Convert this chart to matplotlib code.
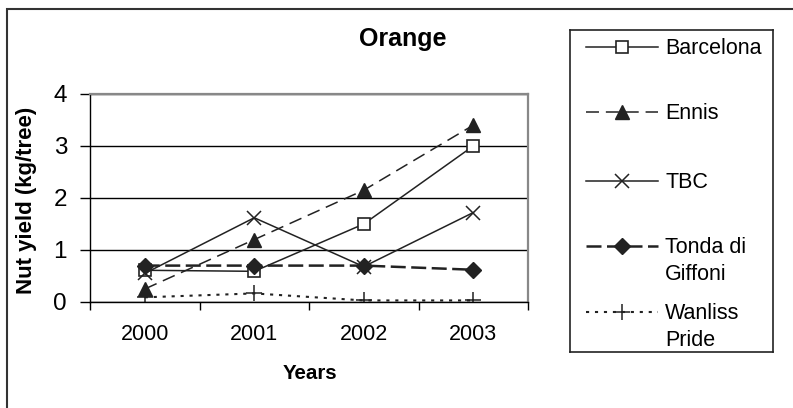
import matplotlib.pyplot as plt
from matplotlib.patches import Rectangle

plt.rcParams['font.family'] = ['Liberation Sans', 'DejaVu Sans']

years = ['2000', '2001', '2002', '2003']
barcelona = [0.61, 0.59, 1.5, 3.0]
ennis = [0.25, 1.2, 2.15, 3.4]
tbc = [0.55, 1.62, 0.68, 1.72]
tonda = [0.7, 0.7, 0.7, 0.62]
wanliss = [0.09, 0.165, 0.03, 0.03]
names = ['Barcelona', 'Ennis', 'TBC', 'Tonda di\nGiffoni', 'Wanliss\nPride']

c = '#222222'
styles = [
    dict(ls='-', lw=1.1, marker='s', ms=8.6, mfc='white', mec=c, mew=1.2),
    dict(ls=(0, (8.5, 4.5)), lw=1.1, marker='^', ms=10, mfc=c, mec=c),
    dict(ls='-', lw=1.1, marker='x', ms=10, mec=c, mew=1.1),
    dict(ls=(0, (6, 2.2)), lw=1.8, marker='D', ms=8.5, mfc=c, mec=c),
    dict(ls=(0, (1.5, 2.8)), lw=1.5, marker='+', ms=11, mec=c, mew=1.1),
]
series = [barcelona, ennis, tbc, tonda, wanliss]

fig = plt.figure(figsize=(7.93, 4.08), dpi=100)
ax = fig.add_axes([90 / 793, 1 - 302 / 408, 438 / 793, 208 / 408])
x = range(len(years))

for vals, st in zip(series, styles):
    ax.plot(x, vals, color=c, **st)

ax.set_xlim(-0.5, 3.5)
ax.set_ylim(0, 4)
ax.set_yticks([0, 1, 2, 3, 4])
ax.set_xticks([-0.5, 0.5, 1.5, 2.5, 3.5])
ax.set_xticklabels([])
ax.set_xticks(list(x), minor=True)
ax.set_xticklabels(years, minor=True, fontsize=15.5)
ax.tick_params(axis='x', which='minor', length=0, pad=16)
ax.tick_params(axis='x', which='major', length=6, width=1, direction='out', color='black')
ax.tick_params(axis='y', labelsize=17.5, length=7.5, width=1, pad=9)
ax.grid(axis='y', color='black', lw=1.0)
ax.set_axisbelow(True)
for s in ['top', 'right']:
    ax.spines[s].set_color('#888888')
    ax.spines[s].set_linewidth(1.6)
for s in ['left', 'bottom']:
    ax.spines[s].set_color('black')
    ax.spines[s].set_linewidth(1.0)

ax.set_xlabel('Years', fontsize=14.8, fontweight='bold')
ax.xaxis.set_label_coords(0.502, -0.345)
ax.xaxis.label.set_va('center')
ax.set_ylabel('Nut yield (kg/tree)', fontsize=16, fontweight='bold')
ax.yaxis.set_label_coords(-0.146, 0.49)
ax.yaxis.label.set_va('center')
fig.text(403 / 793, 1 - 39 / 408, 'Orange', fontsize=18, fontweight='bold', ha='center', va='center')

# legend box drawn by hand so each entry's first line sits on an even pitch (as Excel does)
lax = fig.add_axes([570 / 793, 1 - 352 / 408, 203 / 793, 322 / 408])
lax.set_xlim(570, 773)
lax.set_ylim(352, 30)
lax.set_xticks([])
lax.set_yticks([])
for s in lax.spines.values():
    s.set_color('#222222')
    s.set_linewidth(1.2)
rows = [47, 112, 181, 246, 312]
for name, st, yy in zip(names, styles, rows):
    lax.plot([586, 622, 658], [yy, yy, yy], color=c, markevery=[1], **st)
    lax.text(665, yy - 9, name, fontsize=15.5, va='top', ha='left', linespacing=1.4)

fig.patches.append(Rectangle((7 / 793, -0.1), 1.2, 1 - 9 / 408 + 0.1, transform=fig.transFigure,
                             fill=False, edgecolor='#333333', lw=1.5))

fig.savefig('out.png', dpi=100)
